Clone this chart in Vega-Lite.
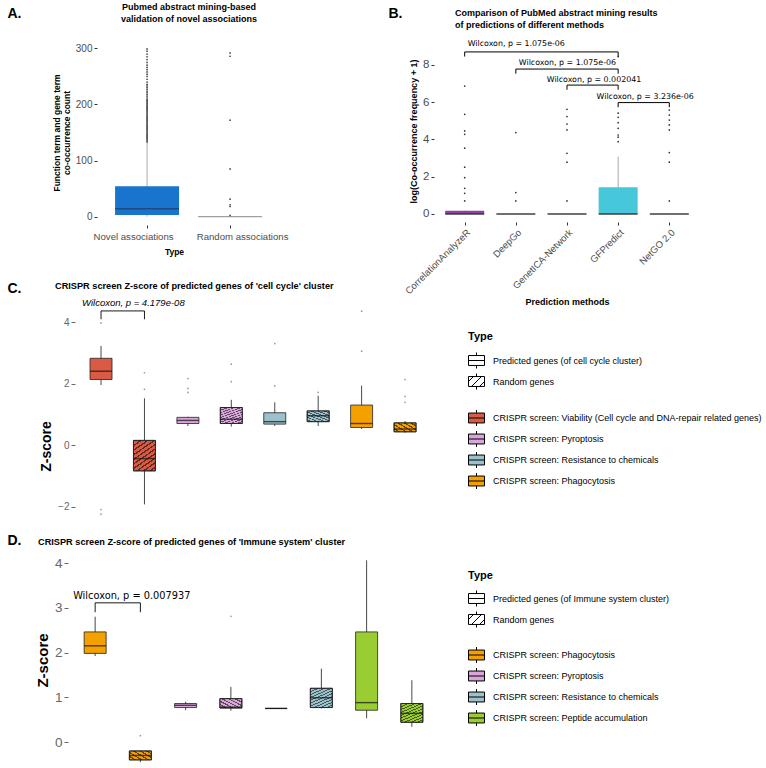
{
  "$schema": "https://vega.github.io/schema/vega-lite/v6.json",
  "padding": {"left": 7, "top": 3, "right": 0, "bottom": 0},
  "background": "white",
  "bounds": "flush",
  "columns": 2,
  "align": {"row": "each", "column": "none"},
  "spacing": {"row": 31, "column": -5},
  "resolve": {"scale": {"x": "independent", "y": "independent", "fill": "independent", "color": "independent", "shape": "independent"}, "legend": {"fill": "independent", "color": "independent", "shape": "independent"}, "axis": {"x": "independent", "y": "independent"}},
  "config": {
    "font": "Liberation Sans",
    "view": {"stroke": null},
    "axis": {"grid": false, "domain": false, "tickColor": "#333333", "tickSize": 3, "labelColor": "#4D4D4D", "titleColor": "#000000", "titleFontWeight": "bold", "labelFont": "Liberation Sans", "titleFont": "Liberation Sans"},
    "legend": {"labelFont": "Liberation Sans", "titleFont": "Liberation Sans", "labelFontSize": 9, "labelColor": "#000000", "titleFontSize": 11, "titleFontWeight": "bold", "padding": 0},
    "title": {"font": "Liberation Sans", "fontWeight": "bold", "color": "#000000"}
  },
  "datasets": {
    "a_box": [
      {"type": "Novel associations", "lo": 0, "q1": 3, "median": 14, "q3": 54, "hi": 131},
      {"type": "Random associations", "lo": 0, "q1": 0, "median": 0, "q3": 0, "hi": 0}
    ],
    "a_out": [
      {"type": "Novel associations", "count": 133}, {"type": "Novel associations", "count": 135}, {"type": "Novel associations", "count": 137}, {"type": "Novel associations", "count": 139},
      {"type": "Novel associations", "count": 141}, {"type": "Novel associations", "count": 143}, {"type": "Novel associations", "count": 145}, {"type": "Novel associations", "count": 147},
      {"type": "Novel associations", "count": 149}, {"type": "Novel associations", "count": 151}, {"type": "Novel associations", "count": 153}, {"type": "Novel associations", "count": 155},
      {"type": "Novel associations", "count": 157}, {"type": "Novel associations", "count": 159}, {"type": "Novel associations", "count": 161}, {"type": "Novel associations", "count": 163},
      {"type": "Novel associations", "count": 165}, {"type": "Novel associations", "count": 167}, {"type": "Novel associations", "count": 169}, {"type": "Novel associations", "count": 171},
      {"type": "Novel associations", "count": 173}, {"type": "Novel associations", "count": 175}, {"type": "Novel associations", "count": 177}, {"type": "Novel associations", "count": 179},
      {"type": "Novel associations", "count": 181}, {"type": "Novel associations", "count": 183}, {"type": "Novel associations", "count": 185}, {"type": "Novel associations", "count": 187},
      {"type": "Novel associations", "count": 189}, {"type": "Novel associations", "count": 191}, {"type": "Novel associations", "count": 193}, {"type": "Novel associations", "count": 195},
      {"type": "Novel associations", "count": 197}, {"type": "Novel associations", "count": 199}, {"type": "Novel associations", "count": 201}, {"type": "Novel associations", "count": 203},
      {"type": "Novel associations", "count": 205}, {"type": "Novel associations", "count": 207}, {"type": "Novel associations", "count": 209}, {"type": "Novel associations", "count": 212},
      {"type": "Novel associations", "count": 215}, {"type": "Novel associations", "count": 218}, {"type": "Novel associations", "count": 221}, {"type": "Novel associations", "count": 224},
      {"type": "Novel associations", "count": 227}, {"type": "Novel associations", "count": 230}, {"type": "Novel associations", "count": 233}, {"type": "Novel associations", "count": 236},
      {"type": "Novel associations", "count": 240}, {"type": "Novel associations", "count": 245}, {"type": "Novel associations", "count": 250}, {"type": "Novel associations", "count": 254},
      {"type": "Novel associations", "count": 258}, {"type": "Novel associations", "count": 262}, {"type": "Novel associations", "count": 266}, {"type": "Novel associations", "count": 270},
      {"type": "Novel associations", "count": 275}, {"type": "Novel associations", "count": 280}, {"type": "Novel associations", "count": 285}, {"type": "Novel associations", "count": 290},
      {"type": "Novel associations", "count": 295}, {"type": "Novel associations", "count": 299},
      {"type": "Random associations", "count": 292}, {"type": "Random associations", "count": 286}, {"type": "Random associations", "count": 172}, {"type": "Random associations", "count": 85},
      {"type": "Random associations", "count": 31}, {"type": "Random associations", "count": 21}, {"type": "Random associations", "count": 18}, {"type": "Random associations", "count": 2}
    ],
    "b_box": [
      {"method": "CorrelationAnalyzeR", "lo": 0, "q1": 0, "median": 0, "q3": 0.18, "hi": 0.18},
      {"method": "DeepGo", "lo": 0, "q1": 0, "median": 0, "q3": 0, "hi": 0},
      {"method": "GenetICA-Network", "lo": 0, "q1": 0, "median": 0, "q3": 0, "hi": 0},
      {"method": "GFPredict", "lo": 0, "q1": 0, "median": 0, "q3": 1.43, "hi": 3.08},
      {"method": "NetGO 2.0", "lo": 0, "q1": 0, "median": 0, "q3": 0, "hi": 0}
    ],
    "b_out": [
      {"method": "CorrelationAnalyzeR", "v": 6.87}, {"method": "CorrelationAnalyzeR", "v": 5.35}, {"method": "CorrelationAnalyzeR", "v": 4.46}, {"method": "CorrelationAnalyzeR", "v": 4.28},
      {"method": "CorrelationAnalyzeR", "v": 3.53}, {"method": "CorrelationAnalyzeR", "v": 2.51}, {"method": "CorrelationAnalyzeR", "v": 1.95}, {"method": "CorrelationAnalyzeR", "v": 1.38},
      {"method": "CorrelationAnalyzeR", "v": 1.11}, {"method": "CorrelationAnalyzeR", "v": 0.7},
      {"method": "DeepGo", "v": 4.37}, {"method": "DeepGo", "v": 1.15}, {"method": "DeepGo", "v": 0.7},
      {"method": "GenetICA-Network", "v": 5.62}, {"method": "GenetICA-Network", "v": 5.23}, {"method": "GenetICA-Network", "v": 4.83}, {"method": "GenetICA-Network", "v": 4.51},
      {"method": "GenetICA-Network", "v": 3.26}, {"method": "GenetICA-Network", "v": 2.78}, {"method": "GenetICA-Network", "v": 0.7},
      {"method": "GFPredict", "v": 8.45}, {"method": "GFPredict", "v": 5.41}, {"method": "GFPredict", "v": 5.19}, {"method": "GFPredict", "v": 4.9},
      {"method": "GFPredict", "v": 4.6}, {"method": "GFPredict", "v": 4.24}, {"method": "GFPredict", "v": 4.12}, {"method": "GFPredict", "v": 3.88},
      {"method": "NetGO 2.0", "v": 5.58}, {"method": "NetGO 2.0", "v": 5.31}, {"method": "NetGO 2.0", "v": 5.04}, {"method": "NetGO 2.0", "v": 4.78},
      {"method": "NetGO 2.0", "v": 4.51}, {"method": "NetGO 2.0", "v": 3.3}, {"method": "NetGO 2.0", "v": 2.78}, {"method": "NetGO 2.0", "v": 0.7}
    ],
    "b_ann": [
      {"from": "CorrelationAnalyzeR", "to": "GFPredict", "top": 8.7, "bottom": 8.45, "ly": 9.11, "label": "Wilcoxon, p = 1.075e-06"},
      {"from": "DeepGo", "to": "GFPredict", "top": 7.78, "bottom": 7.53, "ly": 8.09, "label": "Wilcoxon, p = 1.075e-06"},
      {"from": "GenetICA-Network", "to": "GFPredict", "top": 6.92, "bottom": 6.67, "ly": 7.19, "label": "Wilcoxon, p = 0.002041"},
      {"from": "GFPredict", "to": "NetGO 2.0", "top": 5.98, "bottom": 5.73, "ly": 6.3, "label": "Wilcoxon, p = 3.236e-06"}
    ],
    "c_box": [
      {"box": "Viability: predicted", "screen": "CRISPR screen: Viability (Cell cycle and DNA-repair related genes)", "type": "Predicted genes (of cell cycle cluster)", "lo": 1.95, "q1": 2.13, "median": 2.4, "q3": 2.82, "hi": 3.22},
      {"box": "Viability: random", "screen": "CRISPR screen: Viability (Cell cycle and DNA-repair related genes)", "type": "Random genes", "lo": -1.93, "q1": -0.84, "median": -0.44, "q3": 0.15, "hi": 1.52},
      {"box": "Pyroptosis: predicted", "screen": "CRISPR screen: Pyroptosis", "type": "Predicted genes (of cell cycle cluster)", "lo": 0.62, "q1": 0.7, "median": 0.8, "q3": 0.9, "hi": 0.92},
      {"box": "Pyroptosis: random", "screen": "CRISPR screen: Pyroptosis", "type": "Random genes", "lo": 0.6, "q1": 0.7, "median": 0.84, "q3": 1.22, "hi": 1.47},
      {"box": "Resistance: predicted", "screen": "CRISPR screen: Resistance to chemicals", "type": "Predicted genes (of cell cycle cluster)", "lo": 0.62, "q1": 0.68, "median": 0.76, "q3": 1.05, "hi": 1.39},
      {"box": "Resistance: random", "screen": "CRISPR screen: Resistance to chemicals", "type": "Random genes", "lo": 0.62, "q1": 0.76, "median": 0.95, "q3": 1.11, "hi": 1.6},
      {"box": "Phagocytosis: predicted", "screen": "CRISPR screen: Phagocytosis", "type": "Predicted genes (of cell cycle cluster)", "lo": 0.52, "q1": 0.57, "median": 0.7, "q3": 1.3, "hi": 1.93},
      {"box": "Phagocytosis: random", "screen": "CRISPR screen: Phagocytosis", "type": "Random genes", "lo": 0.4, "q1": 0.43, "median": 0.52, "q3": 0.72, "hi": 0.78}
    ],
    "c_out": [
      {"box": "Viability: predicted", "z": 3.97}, {"box": "Viability: predicted", "z": -2.1}, {"box": "Viability: predicted", "z": -2.25},
      {"box": "Viability: random", "z": 2.35}, {"box": "Viability: random", "z": 1.81},
      {"box": "Pyroptosis: predicted", "z": 2.16}, {"box": "Pyroptosis: predicted", "z": 1.84}, {"box": "Pyroptosis: predicted", "z": 1.71},
      {"box": "Pyroptosis: random", "z": 2.63}, {"box": "Pyroptosis: random", "z": 2.06},
      {"box": "Resistance: predicted", "z": 3.3}, {"box": "Resistance: predicted", "z": 1.92},
      {"box": "Resistance: random", "z": 1.71},
      {"box": "Phagocytosis: predicted", "z": 4.35}, {"box": "Phagocytosis: predicted", "z": 3.05},
      {"box": "Phagocytosis: random", "z": 2.13}, {"box": "Phagocytosis: random", "z": 1.58}, {"box": "Phagocytosis: random", "z": 1.39}
    ],
    "c_ann": [
      {"from": "Viability: predicted", "to": "Viability: random", "top": 4.36, "bottom": 4.09, "ly": 4.61, "label": "Wilcoxon, p = 4.179e-08"}
    ],
    "d_box": [
      {"box": "Phagocytosis: predicted", "screen": "CRISPR screen: Phagocytosis", "type": "Predicted genes (of Immune system cluster)", "lo": 1.92, "q1": 1.98, "median": 2.15, "q3": 2.46, "hi": 2.8},
      {"box": "Phagocytosis: random", "screen": "CRISPR screen: Phagocytosis", "type": "Random genes", "lo": -0.45, "q1": -0.4, "median": -0.3, "q3": -0.2, "hi": -0.2},
      {"box": "Pyroptosis: predicted", "screen": "CRISPR screen: Pyroptosis", "type": "Predicted genes (of Immune system cluster)", "lo": 0.71, "q1": 0.77, "median": 0.82, "q3": 0.86, "hi": 0.9},
      {"box": "Pyroptosis: random", "screen": "CRISPR screen: Pyroptosis", "type": "Random genes", "lo": 0.7, "q1": 0.76, "median": 0.78, "q3": 0.97, "hi": 1.23},
      {"box": "Resistance: predicted", "screen": "CRISPR screen: Resistance to chemicals", "type": "Predicted genes (of Immune system cluster)", "lo": 0.75, "q1": 0.75, "median": 0.75, "q3": 0.75, "hi": 0.75},
      {"box": "Resistance: random", "screen": "CRISPR screen: Resistance to chemicals", "type": "Random genes", "lo": 0.75, "q1": 0.77, "median": 0.99, "q3": 1.2, "hi": 1.64},
      {"box": "Peptide: predicted", "screen": "CRISPR screen: Peptide accumulation", "type": "Predicted genes (of Immune system cluster)", "lo": 0.53, "q1": 0.71, "median": 0.88, "q3": 2.46, "hi": 4.06},
      {"box": "Peptide: random", "screen": "CRISPR screen: Peptide accumulation", "type": "Random genes", "lo": 0.34, "q1": 0.44, "median": 0.64, "q3": 0.86, "hi": 1.38}
    ],
    "d_out": [
      {"box": "Phagocytosis: random", "z": 0.14},
      {"box": "Pyroptosis: random", "z": 2.81}
    ],
    "d_ann": [
      {"from": "Phagocytosis: predicted", "to": "Phagocytosis: random", "top": 3.11, "bottom": 2.9, "ly": 3.27, "label": "Wilcoxon, p = 0.007937"}
    ]
  },
  "concat": [
    {
      "width": 212,
      "height": 185,
      "title": {"text": ["Pubmed abstract mining-based", "validation of novel associations"], "anchor": "middle", "frame": "group", "fontSize": 9, "lineHeight": 11.5, "dx": 15, "offset": -26.6, "baseline": "bottom"},
      "resolve": {"axis": {"x": "independent"}},
      "layer": [
        {
          "data": {"name": "a_box"},
          "mark": {"type": "rule", "color": "#A8A8A8", "strokeWidth": 1},
          "encoding": {
            "x": {"field": "type", "type": "nominal", "scale": {"type": "point", "domain": ["Novel associations", "Random associations"], "padding": 0.777, "align": 0.613}, "axis": {"title": "Type", "labelAngle": 0, "labelFontSize": 9.6, "titleFontSize": 8.5, "labelPadding": 3, "titlePadding": 6.5, "labelOffset": {"condition": {"test": "datum.value == 'Novel associations'", "value": -14}, "value": 12}}},
            "y": {"field": "lo", "type": "quantitative", "scale": {"domain": [-15, 315], "nice": false, "zero": false}, "axis": {"values": [0, 100, 200, 300], "offset": -29, "labelFontSize": 10, "title": ["Function term and gene term", "co-occurrence count"], "titleFontSize": 8.5, "titleLineHeight": 10, "titlePadding": 4}},
            "y2": {"field": "hi"}
          }
        },
        {
          "data": {"name": "a_box"},
          "mark": {"type": "bar", "size": 64, "color": "#1874CD"},
          "encoding": {
            "x": {"field": "type", "type": "nominal", "axis": {"orient": "top", "labels": false, "ticks": false, "domain": false, "title": "A.", "titleFontSize": 14, "titleX": -61, "titleY": -27, "titleAlign": "left", "titleBaseline": "middle", "titleAngle": 0}},
            "y": {"field": "q1", "type": "quantitative"},
            "y2": {"field": "q3"}
          }
        },
        {
          "data": {"name": "a_box"},
          "mark": {"type": "tick", "size": 64, "thickness": 1.4},
          "encoding": {
            "x": {"field": "type", "type": "nominal", "axis": null},
            "y": {"field": "median", "type": "quantitative"},
            "color": {"field": "type", "type": "nominal", "scale": {"domain": ["Novel associations", "Random associations"], "range": ["#1D3B5E", "#777777"]}, "legend": null}
          }
        },
        {
          "data": {"name": "a_out"},
          "mark": {"type": "point", "filled": true, "size": 3, "color": "#444444", "opacity": 1},
          "encoding": {
            "x": {"field": "type", "type": "nominal", "axis": null},
            "y": {"field": "count", "type": "quantitative"}
          }
        }
      ]
    },
    {
      "width": 266,
      "height": 182,
      "title": {"text": ["Comparison of PubMed abstract mining results", "of predictions of different methods"], "anchor": "start", "frame": "group", "fontSize": 9, "lineHeight": 11.5, "dx": 21, "offset": -32.5, "baseline": "bottom"},
      "resolve": {"axis": {"x": "independent"}},
      "layer": [
        {
          "data": {"name": "b_box"},
          "mark": {"type": "rule", "color": "#AAAAAA", "strokeWidth": 1},
          "encoding": {
            "x": {"field": "method", "type": "nominal", "scale": {"type": "point", "domain": ["CorrelationAnalyzeR", "DeepGo", "GenetICA-Network", "GFPredict", "NetGO 2.0"], "padding": 0.6}, "axis": {"title": "Prediction methods", "labelAngle": -45, "labelFontSize": 9.5, "titleFontSize": 9, "labelPadding": 2, "titlePadding": 2}},
            "y": {"field": "lo", "type": "quantitative", "scale": {"domain": [-0.43, 9.34], "nice": false, "zero": false}, "axis": {"values": [0, 2, 4, 6, 8], "labelFontSize": 11.5, "title": "log(Co-occurrence frequency + 1)", "titleFontSize": 9, "titlePadding": 4}},
            "y2": {"field": "hi"}
          }
        },
        {
          "data": {"name": "b_box"},
          "mark": {"type": "bar", "size": 39},
          "encoding": {
            "x": {"field": "method", "type": "nominal", "axis": {"orient": "top", "labels": false, "ticks": false, "domain": false, "title": "B.", "titleFontSize": 14, "titleX": -46, "titleY": -27, "titleAlign": "left", "titleBaseline": "middle", "titleAngle": 0}},
            "y": {"field": "q1", "type": "quantitative"},
            "y2": {"field": "q3"},
            "fill": {"field": "method", "type": "nominal", "scale": {"domain": ["CorrelationAnalyzeR", "DeepGo", "GenetICA-Network", "GFPredict", "NetGO 2.0"], "range": ["#8E3FA3", "#777777", "#777777", "#46C7DA", "#777777"]}, "legend": null}
          }
        },
        {
          "data": {"name": "b_box"},
          "mark": {"type": "tick", "size": 39, "thickness": 2, "color": "#333333"},
          "encoding": {
            "x": {"field": "method", "type": "nominal", "axis": null},
            "y": {"field": "median", "type": "quantitative"}
          }
        },
        {
          "data": {"name": "b_out"},
          "mark": {"type": "point", "filled": true, "size": 3, "color": "#333333", "opacity": 1},
          "encoding": {
            "x": {"field": "method", "type": "nominal", "axis": null},
            "y": {"field": "v", "type": "quantitative"}
          }
        },
        {
          "data": {"name": "b_ann"},
          "mark": {"type": "rule", "color": "#000000", "strokeWidth": 1},
          "encoding": {
            "x": {"field": "from", "type": "nominal", "axis": null},
            "x2": {"field": "to"},
            "y": {"field": "top", "type": "quantitative"}
          }
        },
        {
          "data": {"name": "b_ann"},
          "mark": {"type": "rule", "color": "#000000", "strokeWidth": 1},
          "encoding": {
            "x": {"field": "from", "type": "nominal", "axis": null},
            "y": {"field": "bottom", "type": "quantitative"},
            "y2": {"field": "top"}
          }
        },
        {
          "data": {"name": "b_ann"},
          "mark": {"type": "rule", "color": "#000000", "strokeWidth": 1},
          "encoding": {
            "x": {"field": "to", "type": "nominal", "axis": null},
            "y": {"field": "bottom", "type": "quantitative"},
            "y2": {"field": "top"}
          }
        },
        {
          "data": {"name": "b_ann"},
          "transform": [{"filter": "datum.top > 7.5"}],
          "mark": {"type": "text", "align": "left", "baseline": "middle", "font": "DejaVu Sans", "fontSize": 7.9, "dx": 3, "color": "#000000"},
          "encoding": {
            "x": {"field": "from", "type": "nominal", "axis": null},
            "y": {"field": "ly", "type": "quantitative"},
            "text": {"field": "label"}
          }
        },
        {
          "data": {"name": "b_ann"},
          "transform": [{"filter": "datum.top < 7.5"}],
          "mark": {"type": "text", "align": "center", "baseline": "middle", "font": "DejaVu Sans", "fontSize": 7.9, "dx": 27, "color": "#000000"},
          "encoding": {
            "x": {"field": "from", "type": "nominal", "axis": null},
            "y": {"field": "ly", "type": "quantitative"},
            "text": {"field": "label"}
          }
        }
      ]
    },
    {
      "width": 363,
      "height": 265,
      "title": {"text": "CRISPR screen Z-score of predicted genes of 'cell cycle' cluster", "anchor": "start", "frame": "group", "fontSize": 9.2, "dx": -13, "offset": -44, "baseline": "bottom"},
      "layer": [
        {
          "data": {"name": "c_box"},
          "mark": {"type": "rule", "color": "#333333", "strokeWidth": 0.9},
          "encoding": {
            "x": {"field": "box", "type": "nominal", "scale": {"type": "point", "domain": ["Viability: predicted", "Viability: random", "Pyroptosis: predicted", "Pyroptosis: random", "Resistance: predicted", "Resistance: random", "Phagocytosis: predicted", "Phagocytosis: random"], "padding": 0.679, "align": 0.56}, "axis": {"orient": "top", "labels": false, "ticks": false, "domain": false, "title": "C.", "titleFontSize": 14, "titleX": -61, "titleY": 32, "titleAlign": "left", "titleBaseline": "middle", "titleAngle": 0}},
            "y": {"field": "lo", "type": "quantitative", "scale": {"domain": [-2.47, 6.146], "nice": false, "zero": false}, "axis": {"values": [-2, 0, 2, 4], "offset": -7, "tickSize": 4, "labelFontSize": 10, "labelColor": "#666666", "tickColor": "#666666", "title": "Z-score", "titleFontSize": 14, "titlePadding": 4, "titleY": 190}},
            "y2": {"field": "hi"}
          }
        },
        {
          "data": {"name": "c_box"},
          "mark": {"type": "bar", "size": 22, "stroke": "#222222", "strokeWidth": 0.8},
          "encoding": {
            "x": {"field": "box", "type": "nominal"},
            "y": {"field": "q1", "type": "quantitative"},
            "y2": {"field": "q3"},
            "fill": {"field": "screen", "type": "nominal", "scale": {"domain": ["CRISPR screen: Viability (Cell cycle and DNA-repair related genes)", "CRISPR screen: Pyroptosis", "CRISPR screen: Resistance to chemicals", "CRISPR screen: Phagocytosis"], "range": ["#D95B45", "#D9A5DB", "#9BC1CD", "#F4A100"]}, "legend": {"title": null, "orient": "none", "legendX": 400, "legendY": 151.5, "symbolType": "M-1,-0.62H1V0.62H-1Z M0,-1V-0.62 M0,0.62V1 M-1,0H1", "symbolSize": 256, "symbolStrokeColor": "#000000", "symbolStrokeWidth": 1, "labelFontSize": 9, "labelOffset": 8, "rowPadding": 0, "clipHeight": 21, "labelLimit": 400}}
          }
        },
        {
          "data": {"name": "c_box"},
          "transform": [{"filter": "datum.type == 'Random genes'"}],
          "mark": {"type": "bar", "size": 22, "stroke": "#222222", "strokeWidth": 0.8, "fill": {"gradient": "linear", "x1": 0, "y1": 0, "x2": 0.6, "y2": 1.2, "stops": [
            {"offset": 0, "color": "rgba(0,0,0,0.55)"}, {"offset": 0.035, "color": "rgba(0,0,0,0.55)"}, {"offset": 0.035, "color": "rgba(0,0,0,0)"}, {"offset": 0.1, "color": "rgba(0,0,0,0)"},
            {"offset": 0.1, "color": "rgba(0,0,0,0.55)"}, {"offset": 0.135, "color": "rgba(0,0,0,0.55)"}, {"offset": 0.135, "color": "rgba(0,0,0,0)"}, {"offset": 0.2, "color": "rgba(0,0,0,0)"},
            {"offset": 0.2, "color": "rgba(0,0,0,0.55)"}, {"offset": 0.235, "color": "rgba(0,0,0,0.55)"}, {"offset": 0.235, "color": "rgba(0,0,0,0)"}, {"offset": 0.3, "color": "rgba(0,0,0,0)"},
            {"offset": 0.3, "color": "rgba(0,0,0,0.55)"}, {"offset": 0.335, "color": "rgba(0,0,0,0.55)"}, {"offset": 0.335, "color": "rgba(0,0,0,0)"}, {"offset": 0.4, "color": "rgba(0,0,0,0)"},
            {"offset": 0.4, "color": "rgba(0,0,0,0.55)"}, {"offset": 0.435, "color": "rgba(0,0,0,0.55)"}, {"offset": 0.435, "color": "rgba(0,0,0,0)"}, {"offset": 0.5, "color": "rgba(0,0,0,0)"},
            {"offset": 0.5, "color": "rgba(0,0,0,0.55)"}, {"offset": 0.535, "color": "rgba(0,0,0,0.55)"}, {"offset": 0.535, "color": "rgba(0,0,0,0)"}, {"offset": 0.6, "color": "rgba(0,0,0,0)"},
            {"offset": 0.6, "color": "rgba(0,0,0,0.55)"}, {"offset": 0.635, "color": "rgba(0,0,0,0.55)"}, {"offset": 0.635, "color": "rgba(0,0,0,0)"}, {"offset": 0.7, "color": "rgba(0,0,0,0)"},
            {"offset": 0.7, "color": "rgba(0,0,0,0.55)"}, {"offset": 0.735, "color": "rgba(0,0,0,0.55)"}, {"offset": 0.735, "color": "rgba(0,0,0,0)"}, {"offset": 0.8, "color": "rgba(0,0,0,0)"},
            {"offset": 0.8, "color": "rgba(0,0,0,0.55)"}, {"offset": 0.835, "color": "rgba(0,0,0,0.55)"}, {"offset": 0.835, "color": "rgba(0,0,0,0)"}, {"offset": 0.9, "color": "rgba(0,0,0,0)"},
            {"offset": 0.9, "color": "rgba(0,0,0,0.55)"}, {"offset": 0.935, "color": "rgba(0,0,0,0.55)"}, {"offset": 0.935, "color": "rgba(0,0,0,0)"}, {"offset": 1, "color": "rgba(0,0,0,0)"}
          ]}},
          "encoding": {
            "x": {"field": "box", "type": "nominal"},
            "y": {"field": "q1", "type": "quantitative"},
            "y2": {"field": "q3"}
          }
        },
        {
          "data": {"name": "c_box"},
          "mark": {"type": "tick", "size": 22, "thickness": 1.4, "color": "#111111"},
          "encoding": {
            "x": {"field": "box", "type": "nominal"},
            "y": {"field": "median", "type": "quantitative"}
          }
        },
        {
          "data": {"name": "c_out"},
          "mark": {"type": "point", "filled": true, "size": 3, "color": "#9A9A9A", "opacity": 1},
          "encoding": {
            "x": {"field": "box", "type": "nominal"},
            "y": {"field": "z", "type": "quantitative"}
          }
        },
        {
          "data": {"name": "c_box"},
          "mark": {"type": "point", "filled": false, "opacity": 0, "color": "#000000"},
          "encoding": {
            "x": {"field": "box", "type": "nominal"},
            "y": {"field": "median", "type": "quantitative"},
            "shape": {"field": "type", "type": "nominal", "scale": {"domain": ["Predicted genes (of cell cycle cluster)", "Random genes"], "range": ["M-1,-0.62H1V0.62H-1Z M0,-1V-0.62 M0,0.62V1 M-1,0H1", "M-1,-0.62H1V0.62H-1Z M0,-1V-0.62 M0,0.62V1 M-1,0L-0.38,-0.62 M-0.62,0.62L0.62,-0.62 M0.38,0.62L1,0"]}, "legend": {"title": "Type", "orient": "none", "legendX": 400, "legendY": 75, "symbolSize": 256, "symbolStrokeColor": "#000000", "symbolStrokeWidth": 1, "symbolOpacity": 1, "labelFontSize": 9, "labelOffset": 8, "rowPadding": 0, "clipHeight": 21, "titleFontSize": 11, "titlePadding": 8, "labelLimit": 400}}
          }
        },
        {
          "data": {"name": "c_ann"},
          "mark": {"type": "rule", "color": "#000000", "strokeWidth": 0.9},
          "encoding": {
            "x": {"field": "from", "type": "nominal"},
            "x2": {"field": "to"},
            "y": {"field": "top", "type": "quantitative"}
          }
        },
        {
          "data": {"name": "c_ann"},
          "mark": {"type": "rule", "color": "#000000", "strokeWidth": 0.9},
          "encoding": {
            "x": {"field": "from", "type": "nominal"},
            "y": {"field": "bottom", "type": "quantitative"},
            "y2": {"field": "top"}
          }
        },
        {
          "data": {"name": "c_ann"},
          "mark": {"type": "rule", "color": "#000000", "strokeWidth": 0.9},
          "encoding": {
            "x": {"field": "to", "type": "nominal"},
            "y": {"field": "bottom", "type": "quantitative"},
            "y2": {"field": "top"}
          }
        },
        {
          "data": {"name": "c_ann"},
          "mark": {"type": "text", "align": "left", "baseline": "middle", "font": "Liberation Sans", "fontStyle": "italic", "fontSize": 9.5, "dx": -19, "color": "#000000"},
          "encoding": {
            "x": {"field": "from", "type": "nominal"},
            "y": {"field": "ly", "type": "quantitative"},
            "text": {"field": "label"}
          }
        }
      ]
    },
    {
      "width": 1,
      "height": 1,
      "data": {"values": [{"v": 0}]},
      "mark": {"type": "point", "opacity": 0},
      "encoding": {}
    },
    {
      "width": 371,
      "height": 216,
      "title": {"text": "CRISPR screen Z-score of predicted genes of 'Immune system' cluster", "anchor": "start", "frame": "group", "fontSize": 9.2, "dx": -30, "offset": -23, "baseline": "bottom"},
      "layer": [
        {
          "data": {"name": "d_box"},
          "mark": {"type": "rule", "color": "#333333", "strokeWidth": 0.9},
          "encoding": {
            "x": {"field": "box", "type": "nominal", "scale": {"type": "point", "domain": ["Phagocytosis: predicted", "Phagocytosis: random", "Pyroptosis: predicted", "Pyroptosis: random", "Resistance: predicted", "Resistance: random", "Peptide: predicted", "Peptide: random"], "padding": 0.6}, "axis": {"orient": "top", "labels": false, "ticks": false, "domain": false, "title": "D.", "titleFontSize": 14, "titleX": -61, "titleY": -12, "titleAlign": "left", "titleBaseline": "middle", "titleAngle": 0}},
            "y": {"field": "lo", "type": "quantitative", "scale": {"domain": [-0.581, 4.246], "nice": false, "zero": false}, "axis": {"values": [0, 1, 2, 3, 4], "tickSize": 4, "labelFontSize": 13.5, "labelColor": "#666666", "tickColor": "#666666", "title": "Z-score", "titleFontSize": 15, "titlePadding": 4}},
            "y2": {"field": "hi"}
          }
        },
        {
          "data": {"name": "d_box"},
          "mark": {"type": "bar", "size": 22, "stroke": "#222222", "strokeWidth": 0.8},
          "encoding": {
            "x": {"field": "box", "type": "nominal"},
            "y": {"field": "q1", "type": "quantitative"},
            "y2": {"field": "q3"},
            "fill": {"field": "screen", "type": "nominal", "scale": {"domain": ["CRISPR screen: Phagocytosis", "CRISPR screen: Pyroptosis", "CRISPR screen: Resistance to chemicals", "CRISPR screen: Peptide accumulation"], "range": ["#F4A100", "#D9A5DB", "#9BC1CD", "#9ACD32"]}, "legend": {"title": null, "orient": "none", "legendX": 400, "legendY": 92.5, "symbolType": "M-1,-0.62H1V0.62H-1Z M0,-1V-0.62 M0,0.62V1 M-1,0H1", "symbolSize": 256, "symbolStrokeColor": "#000000", "symbolStrokeWidth": 1, "labelFontSize": 9, "labelOffset": 8, "rowPadding": 0, "clipHeight": 21, "labelLimit": 400}}
          }
        },
        {
          "data": {"name": "d_box"},
          "transform": [{"filter": "datum.type == 'Random genes'"}],
          "mark": {"type": "bar", "size": 22, "stroke": "#222222", "strokeWidth": 0.8, "fill": {"gradient": "linear", "x1": 0, "y1": 0, "x2": 0.6, "y2": 1.2, "stops": [
            {"offset": 0, "color": "rgba(0,0,0,0.55)"}, {"offset": 0.035, "color": "rgba(0,0,0,0.55)"}, {"offset": 0.035, "color": "rgba(0,0,0,0)"}, {"offset": 0.1, "color": "rgba(0,0,0,0)"},
            {"offset": 0.1, "color": "rgba(0,0,0,0.55)"}, {"offset": 0.135, "color": "rgba(0,0,0,0.55)"}, {"offset": 0.135, "color": "rgba(0,0,0,0)"}, {"offset": 0.2, "color": "rgba(0,0,0,0)"},
            {"offset": 0.2, "color": "rgba(0,0,0,0.55)"}, {"offset": 0.235, "color": "rgba(0,0,0,0.55)"}, {"offset": 0.235, "color": "rgba(0,0,0,0)"}, {"offset": 0.3, "color": "rgba(0,0,0,0)"},
            {"offset": 0.3, "color": "rgba(0,0,0,0.55)"}, {"offset": 0.335, "color": "rgba(0,0,0,0.55)"}, {"offset": 0.335, "color": "rgba(0,0,0,0)"}, {"offset": 0.4, "color": "rgba(0,0,0,0)"},
            {"offset": 0.4, "color": "rgba(0,0,0,0.55)"}, {"offset": 0.435, "color": "rgba(0,0,0,0.55)"}, {"offset": 0.435, "color": "rgba(0,0,0,0)"}, {"offset": 0.5, "color": "rgba(0,0,0,0)"},
            {"offset": 0.5, "color": "rgba(0,0,0,0.55)"}, {"offset": 0.535, "color": "rgba(0,0,0,0.55)"}, {"offset": 0.535, "color": "rgba(0,0,0,0)"}, {"offset": 0.6, "color": "rgba(0,0,0,0)"},
            {"offset": 0.6, "color": "rgba(0,0,0,0.55)"}, {"offset": 0.635, "color": "rgba(0,0,0,0.55)"}, {"offset": 0.635, "color": "rgba(0,0,0,0)"}, {"offset": 0.7, "color": "rgba(0,0,0,0)"},
            {"offset": 0.7, "color": "rgba(0,0,0,0.55)"}, {"offset": 0.735, "color": "rgba(0,0,0,0.55)"}, {"offset": 0.735, "color": "rgba(0,0,0,0)"}, {"offset": 0.8, "color": "rgba(0,0,0,0)"},
            {"offset": 0.8, "color": "rgba(0,0,0,0.55)"}, {"offset": 0.835, "color": "rgba(0,0,0,0.55)"}, {"offset": 0.835, "color": "rgba(0,0,0,0)"}, {"offset": 0.9, "color": "rgba(0,0,0,0)"},
            {"offset": 0.9, "color": "rgba(0,0,0,0.55)"}, {"offset": 0.935, "color": "rgba(0,0,0,0.55)"}, {"offset": 0.935, "color": "rgba(0,0,0,0)"}, {"offset": 1, "color": "rgba(0,0,0,0)"}
          ]}},
          "encoding": {
            "x": {"field": "box", "type": "nominal"},
            "y": {"field": "q1", "type": "quantitative"},
            "y2": {"field": "q3"}
          }
        },
        {
          "data": {"name": "d_box"},
          "mark": {"type": "tick", "size": 22, "thickness": 1.4, "color": "#111111"},
          "encoding": {
            "x": {"field": "box", "type": "nominal"},
            "y": {"field": "median", "type": "quantitative"}
          }
        },
        {
          "data": {"name": "d_out"},
          "mark": {"type": "point", "filled": true, "size": 3, "color": "#9A9A9A", "opacity": 1},
          "encoding": {
            "x": {"field": "box", "type": "nominal"},
            "y": {"field": "z", "type": "quantitative"}
          }
        },
        {
          "data": {"name": "d_box"},
          "mark": {"type": "point", "filled": false, "opacity": 0, "color": "#000000"},
          "encoding": {
            "x": {"field": "box", "type": "nominal"},
            "y": {"field": "median", "type": "quantitative"},
            "shape": {"field": "type", "type": "nominal", "scale": {"domain": ["Predicted genes (of Immune system cluster)", "Random genes"], "range": ["M-1,-0.62H1V0.62H-1Z M0,-1V-0.62 M0,0.62V1 M-1,0H1", "M-1,-0.62H1V0.62H-1Z M0,-1V-0.62 M0,0.62V1 M-1,0L-0.38,-0.62 M-0.62,0.62L0.62,-0.62 M0.38,0.62L1,0"]}, "legend": {"title": "Type", "orient": "none", "legendX": 400, "legendY": 18, "symbolSize": 256, "symbolStrokeColor": "#000000", "symbolStrokeWidth": 1, "symbolOpacity": 1, "labelFontSize": 9, "labelOffset": 8, "rowPadding": 0, "clipHeight": 21, "titleFontSize": 11, "titlePadding": 7, "labelLimit": 400}}
          }
        },
        {
          "data": {"name": "d_ann"},
          "mark": {"type": "rule", "color": "#000000", "strokeWidth": 0.9},
          "encoding": {
            "x": {"field": "from", "type": "nominal"},
            "x2": {"field": "to"},
            "y": {"field": "top", "type": "quantitative"}
          }
        },
        {
          "data": {"name": "d_ann"},
          "mark": {"type": "rule", "color": "#000000", "strokeWidth": 0.9},
          "encoding": {
            "x": {"field": "from", "type": "nominal"},
            "y": {"field": "bottom", "type": "quantitative"},
            "y2": {"field": "top"}
          }
        },
        {
          "data": {"name": "d_ann"},
          "mark": {"type": "rule", "color": "#000000", "strokeWidth": 0.9},
          "encoding": {
            "x": {"field": "to", "type": "nominal"},
            "y": {"field": "bottom", "type": "quantitative"},
            "y2": {"field": "top"}
          }
        },
        {
          "data": {"name": "d_ann"},
          "mark": {"type": "text", "align": "left", "baseline": "middle", "font": "DejaVu Sans", "fontSize": 9.8, "dx": -22, "color": "#000000"},
          "encoding": {
            "x": {"field": "from", "type": "nominal"},
            "y": {"field": "ly", "type": "quantitative"},
            "text": {"field": "label"}
          }
        }
      ]
    }
  ]
}
